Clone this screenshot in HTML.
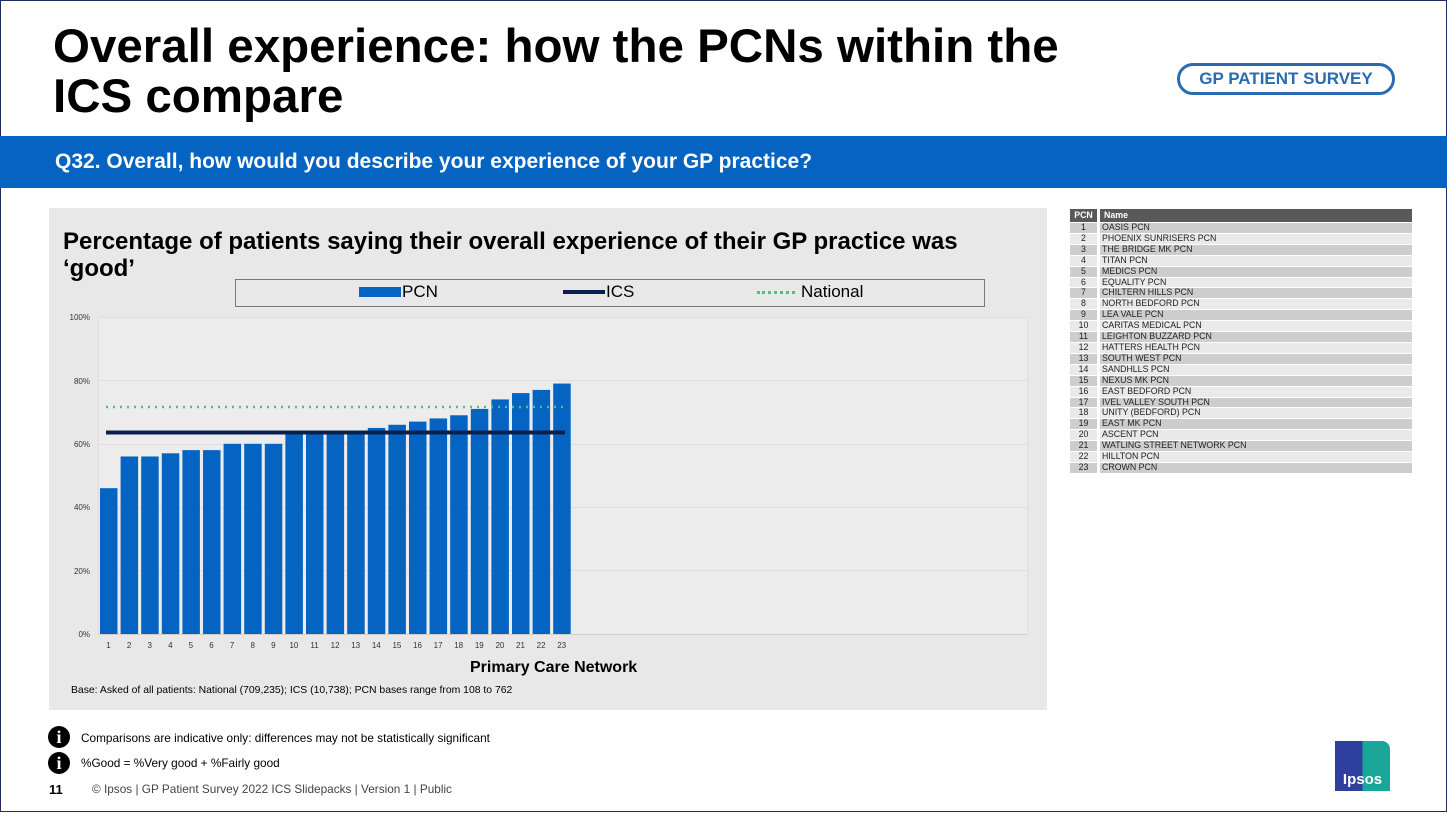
<!DOCTYPE html>
<html><head><meta charset="utf-8"><style>
body{margin:0;width:1447px;height:813px;overflow:hidden;background:#fff;font-family:"Liberation Sans",Arial,sans-serif;position:relative}
.a{position:absolute}
.frame{position:absolute;left:0;top:0;width:1445px;height:810px;border:1px solid #1c2f5e}
h1{position:absolute;left:53px;top:22px;margin:0;font-size:47.5px;line-height:50px;font-weight:bold;color:#000;white-space:nowrap}
.band{left:0;top:136px;width:1447px;height:52px;background:#0563c1;color:#fff;font-weight:bold;font-size:21px;line-height:52px;padding-left:55px;box-sizing:border-box}
.logo{left:1177px;top:63px;width:212px;height:26px;border:3px solid #2a6bb0;border-radius:16px;color:#2a6bb0;font-weight:bold;font-size:17px;line-height:26px;text-align:center}
.panel{left:49px;top:208px;width:998px;height:502px;background:#e8e8e8}
table{border-collapse:separate;border-spacing:0 1px;font-size:8.8px;color:#222}
td{padding:0;height:9.9px;line-height:9.9px}
.info{width:22px;height:22px;border-radius:50%;background:#000;color:#fff;font-family:"Liberation Serif",serif;font-weight:bold;font-size:18px;line-height:22px;text-align:center}
</style></head><body>
<div class="frame"></div>
<h1>Overall experience: how the PCNs within the<br>ICS compare</h1>
<div class="a logo">GP PATIENT SURVEY</div>
<div class="a band">Q32. Overall, how would you describe your experience of your GP practice?</div>
<div class="a panel"></div>
<div class="a" style="left:63px;top:228px;font-size:24px;font-weight:bold;line-height:27px;white-space:nowrap">Percentage of patients saying their overall experience of their GP practice was<br>‘good’</div>
<div class="a" style="left:235px;top:279px;width:750px;height:28px;border:1px solid #777;box-sizing:border-box"></div>
<div class="a" style="left:359px;top:287px;width:42px;height:10px;background:#0563c1"></div>
<div class="a" style="left:402px;top:282px;font-size:17px">PCN</div>
<div class="a" style="left:563px;top:290px;width:42px;height:4px;background:#0b1f4d"></div>
<div class="a" style="left:606px;top:282px;font-size:17px">ICS</div>
<div class="a" style="left:757px;top:291px;width:38px;border-top:3px dotted #4ec27a"></div>
<div class="a" style="left:801px;top:282px;font-size:17px">National</div>
<svg class="a" style="left:0;top:0" width="1447" height="813">
<g stroke="#cfcfcf" stroke-width="1">
<line x1="98" y1="317.5" x2="1028" y2="317.5"/><line x1="98" y1="380.5" x2="1028" y2="380.5"/><line x1="98" y1="444.5" x2="1028" y2="444.5"/><line x1="98" y1="507.5" x2="1028" y2="507.5"/><line x1="98" y1="570.5" x2="1028" y2="570.5"/><line x1="98" y1="634.5" x2="1028" y2="634.5"/><line x1="98.5" y1="317" x2="98.5" y2="634"/><line x1="1027.5" y1="317" x2="1027.5" y2="634"/>
</g>
<rect x="98" y="317" width="930" height="317" fill="#efefef" opacity="0.5"/>
<g font-size="8" fill="#333" text-anchor="end">
<text x="90" y="320">100%</text><text x="90" y="384">80%</text><text x="90" y="447">60%</text><text x="90" y="510">40%</text><text x="90" y="574">20%</text><text x="90" y="637">0%</text>
</g>
<g id="bars" fill="#0563c1"></g>
<g id="xl" font-size="8" fill="#333" text-anchor="middle"></g>
<line x1="106" y1="407" x2="566" y2="407" stroke="#4ec27a" stroke-width="2.5" stroke-dasharray="2,5"/>
<line x1="106" y1="432.5" x2="565" y2="432.5" stroke="#0b1f4d" stroke-width="4"/>
</svg>
<div class="a" style="left:470px;top:659px;font-size:16px;font-weight:bold">Primary Care Network</div>
<div class="a" style="left:71px;top:685px;font-size:10.4px">Base: Asked of all patients: National (709,235); ICS (10,738); PCN bases range from 108 to 762</div>
<table class="a" style="left:1070px;top:208px;width:342px">
<tr><td style="background:#595959;color:#fff;font-weight:bold;width:27px;text-align:center;height:13px;border-right:3px solid #fff">PCN</td><td style="background:#595959;color:#fff;font-weight:bold;padding-left:4px">Name</td></tr>
<tbody id="tb"></tbody></table>
<div class="a info" style="left:48px;top:726px">i</div>
<div class="a" style="left:81px;top:731px;font-size:11.8px">Comparisons are indicative only: differences may not be statistically significant</div>
<div class="a info" style="left:48px;top:752px">i</div>
<div class="a" style="left:81px;top:756px;font-size:11.8px">%Good = %Very good + %Fairly good</div>
<div class="a" style="left:49px;top:782px;font-size:13px;font-weight:bold">11</div>
<div class="a" style="left:92px;top:782px;font-size:11.8px;color:#444">© Ipsos | GP Patient Survey 2022 ICS Slidepacks | Version 1 | Public</div>
<div class="a" style="left:1335px;top:741px;width:55px;height:50px;background:linear-gradient(90deg,#2e3f9e 50%,#1aa79a 50%);color:#fff;font-weight:bold;font-size:15px;text-align:center;line-height:78px;border-radius:0 8px 0 0">Ipsos</div>
<script>
var v=[46,56,56,57,58,58,60,60,60,64,64,64,64,65,66,67,68,69,71,74,76,77,79];
var b='',l='';
v.forEach(function(x,i){var X=100+i*20.6,h=x/100*317;b+='<rect x="'+X+'" y="'+(634-h)+'" width="17.5" height="'+h+'"/>';l+='<text x="'+(X+8.5)+'" y="648">'+(i+1)+'</text>';});
document.getElementById('bars').innerHTML=b;document.getElementById('xl').innerHTML=l;
var n=["OASIS PCN","PHOENIX SUNRISERS PCN","THE BRIDGE MK PCN","TITAN PCN","MEDICS PCN","EQUALITY PCN","CHILTERN HILLS PCN","NORTH BEDFORD PCN","LEA VALE PCN","CARITAS MEDICAL PCN","LEIGHTON BUZZARD PCN","HATTERS HEALTH PCN","SOUTH WEST PCN","SANDHLLS PCN","NEXUS MK PCN","EAST BEDFORD PCN","IVEL VALLEY SOUTH PCN","UNITY (BEDFORD) PCN","EAST MK PCN","ASCENT PCN","WATLING STREET NETWORK PCN","HILLTON PCN","CROWN PCN"];
var t='';n.forEach(function(s,i){var c=i%2?'#e9e9e9':'#cdcdcd';t+='<tr><td style="background:'+c+';text-align:center;border-right:3px solid #fff">'+(i+1)+'</td><td style="background:'+c+';padding-left:2px">'+s+'</td></tr>';});
document.getElementById('tb').innerHTML=t;
</script>
</body></html>
